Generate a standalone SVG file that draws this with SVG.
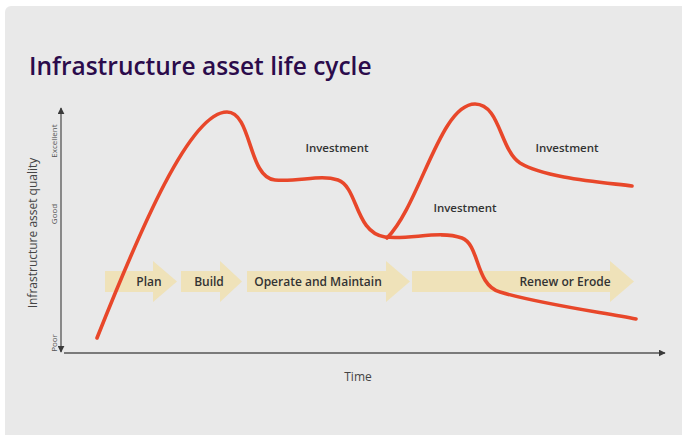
<svg xmlns="http://www.w3.org/2000/svg" width="682" height="435" viewBox="0 0 682 435">
  <defs>
    <marker id="axisHead" viewBox="0 0 10 10" refX="9" refY="5" markerWidth="7" markerHeight="7" markerUnits="userSpaceOnUse" orient="auto-start-reverse">
      <path d="M0,0 L10,5 L0,10 Z" fill="#3a3a3a"/>
    </marker>
    <style>
      .phase { fill: #efe2b9; }
      .phase-label { font-family: "Open Sans", "Liberation Sans", sans-serif; font-size: 12px; fill: #333333; font-weight: 600; }
      .note { font-family: "Open Sans", "Liberation Sans", sans-serif; font-size: 11.5px; fill: #333333; font-weight: 600; }
      .axis { stroke: #555555; stroke-width: 1.3; fill: none; }
      .tick { font-family: "Open Sans", "Liberation Sans", sans-serif; font-size: 8px; fill: #555555; }
      .axis-title { font-family: "Open Sans", "Liberation Sans", sans-serif; font-size: 12px; fill: #444444; }
      .curve { fill: none; stroke: #e8472a; stroke-width: 3.6; stroke-linecap: round; stroke-linejoin: round; }
    </style>
  </defs>

  <!-- background card -->
  <rect x="0" y="0" width="682" height="435" fill="#ffffff"/>
  <rect x="5" y="6" width="690" height="440" rx="6" fill="#e9e9e9"/>

  <text x="29" y="75" font-family="'Open Sans', 'Liberation Sans', sans-serif" font-size="24.5" font-weight="600" fill="#2b0b4b">Infrastructure asset life cycle</text>

  <!-- phase arrows -->
  <g id="phase-plan">
    <polygon class="phase" points="105,271 153,271 153,261 177,281.5 153,302 153,292 105,292"/>
    <text class="phase-label" x="149" y="286" text-anchor="middle">Plan</text>
  </g>
  <g id="phase-build">
    <polygon class="phase" points="181,271 220,271 220,261 242,281.5 220,302 220,292 181,292"/>
    <text class="phase-label" x="209" y="286" text-anchor="middle">Build</text>
  </g>
  <g id="phase-operate">
    <polygon class="phase" points="247,271 386,271 386,261 410,281.5 386,302 386,292 247,292"/>
    <text class="phase-label" x="318" y="286" text-anchor="middle">Operate and Maintain</text>
  </g>
  <g id="phase-renew">
    <polygon class="phase" points="412,271 610,271 610,261 634,281.5 610,302 610,292 412,292"/>
    <text class="phase-label" x="565" y="286" text-anchor="middle">Renew or Erode</text>
  </g>

  <!-- axes -->
  <g id="axes">
    <line class="axis" x1="61" y1="108" x2="61" y2="352" marker-start="url(#axisHead)" marker-end="url(#axisHead)"/>
    <line class="axis" x1="64" y1="353" x2="665" y2="353" marker-end="url(#axisHead)"/>
    <text class="tick" transform="translate(56.5,141) rotate(-90)" text-anchor="middle">Excellent</text>
    <text class="tick" transform="translate(56.5,214) rotate(-90)" text-anchor="middle">Good</text>
    <text class="tick" transform="translate(56.5,343) rotate(-90)" text-anchor="middle">Poor</text>
    <text class="axis-title" transform="translate(37,233) rotate(-90)" text-anchor="middle">Infrastructure asset quality</text>
    <text class="axis-title" x="358" y="381" text-anchor="middle">Time</text>
  </g>

  <!-- quality curves -->
  <g id="curves">
    <path class="curve" d="M97,338 C140,230 190,112 227,112 C252,112 248,178 275,180 C300,182 320,174 338,180 C358,187 355,233 385,237 C410,240 440,230 462,238 C480,245 475,285 500,292 C540,304 600,312 636,319"/>
    <path class="curve" d="M387,238 C420,205 440,104 475,104 C500,104 500,150 520,163 C545,178 600,182 632,186"/>
  </g>

  <text class="note" x="337" y="152" text-anchor="middle">Investment</text>
  <text class="note" x="567" y="152" text-anchor="middle">Investment</text>
  <text class="note" x="465" y="212" text-anchor="middle">Investment</text>
</svg>
